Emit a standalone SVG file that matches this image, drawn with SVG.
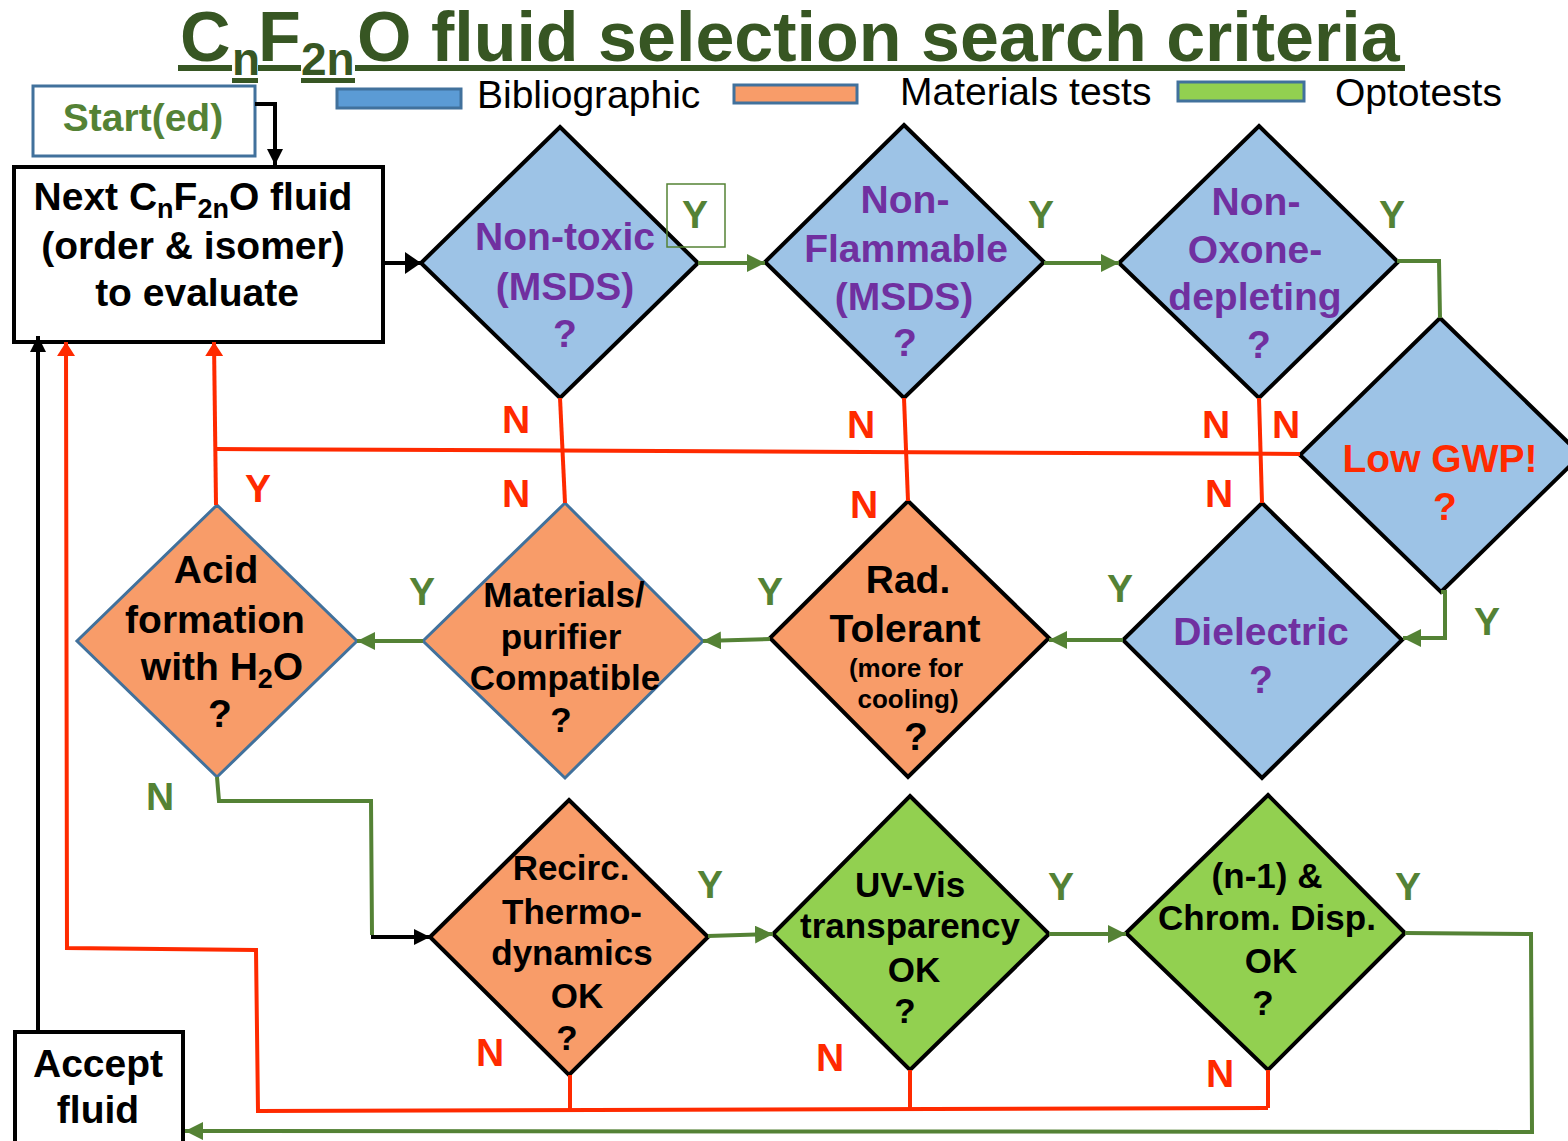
<svg xmlns="http://www.w3.org/2000/svg" width="1568" height="1141" viewBox="0 0 1568 1141">
<style>
text{font-family:"Liberation Sans",Arial,sans-serif;font-weight:bold;}
.t{fill:#375623;font-size:70px;}
.ts{fill:#375623;font-size:46px;}
.lg{font-weight:normal;font-size:39px;fill:#000;}
.c{text-anchor:middle;}
.b39{font-size:39px;}
.b35{font-size:35px;}
.b26{font-size:26px;}
.pur{fill:#7030a0;}
.red{fill:#ff2a00;}
.grn{fill:#548235;}
.blk{fill:#000;}
.dB{fill:#9dc3e6;stroke:#000;stroke-width:4;stroke-linejoin:miter;}
.dO{fill:#f89c69;stroke:#000;stroke-width:4;}
.dOb{fill:#f89c69;stroke:#41719c;stroke-width:3;}
.dG{fill:#92d050;stroke:#000;stroke-width:4;}
.box{fill:#fff;stroke:#000;stroke-width:4;}
.lr{fill:none;stroke:#ff2a00;stroke-width:4;}
.lgn{fill:none;stroke:#548235;stroke-width:4;}
.lk{fill:none;stroke:#000;stroke-width:4;}
</style>
<defs>
<marker id="ag" markerUnits="userSpaceOnUse" markerWidth="20" markerHeight="18" refX="18" refY="9" orient="auto"><path d="M0,0 L18,9 L0,18 z" fill="#548235"/></marker>
<marker id="ar" markerUnits="userSpaceOnUse" markerWidth="16" markerHeight="18" refX="14" refY="9" orient="auto"><path d="M0,0 L14,9 L0,18 z" fill="#ff2a00"/></marker>
<marker id="ak" markerUnits="userSpaceOnUse" markerWidth="18" markerHeight="16" refX="16" refY="8" orient="auto"><path d="M0,0 L16,8 L0,16 z" fill="#000"/></marker>
<marker id="akb" markerUnits="userSpaceOnUse" markerWidth="18" markerHeight="22" refX="16" refY="11" orient="auto"><path d="M0,0 L16,11 L0,22 z" fill="#000"/></marker>
</defs>
<rect width="1568" height="1141" fill="#fff"/>

<g id="title">
<text class="t" x="180" y="61">C</text>
<text class="ts" x="232" y="75">n</text>
<text class="t" x="258" y="61">F</text>
<text class="ts" x="301" y="75">2n</text>
<text class="t" x="357" y="61">O fluid selection search criteria</text>
<g fill="#375623">
<rect x="178" y="65" width="54" height="6"/>
<rect x="232" y="78" width="26" height="5"/>
<rect x="258" y="65" width="43" height="6"/>
<rect x="301" y="78" width="54" height="5"/>
<rect x="355" y="65" width="1050" height="6"/>
</g>
</g>

<g id="legend">
<rect x="337" y="89" width="124" height="19" fill="#5b9bd5" stroke="#41719c" stroke-width="3"/>
<text class="lg" x="477" y="108">Bibliographic</text>
<rect x="734" y="85" width="123" height="18" fill="#f89c69" stroke="#41719c" stroke-width="3"/>
<text class="lg" x="900" y="105">Materials tests</text>
<rect x="1178" y="82" width="126" height="19" fill="#92d050" stroke="#41719c" stroke-width="3"/>
<text class="lg" x="1335" y="106">Optotests</text>
</g>

<g id="start">
<rect x="33" y="86" width="222" height="70" fill="#fff" stroke="#41719c" stroke-width="3"/>
<text class="c b39 grn" x="143" y="131">Start(ed)</text>
</g>

<g id="next">
<rect class="box" x="14" y="167" width="369" height="175"/>
<text class="c b39 blk" x="193" y="210">Next C<tspan font-size="27" dy="8">n</tspan><tspan dy="-8">F</tspan><tspan font-size="27" dy="8">2n</tspan><tspan dy="-8">O fluid</tspan></text>
<text class="c b39 blk" x="193" y="259">(order &amp; isomer)</text>
<text class="c b39 blk" x="197" y="306">to evaluate</text>
</g>

<g id="nontoxic">
<polygon class="dB" points="560,127 698,263 560,398 421,263"/>
<text class="c b39 pur" x="565" y="250">Non-toxic</text>
<text class="c b39 pur" x="565" y="300">(MSDS)</text>
<text class="c b39 pur" x="565" y="347">?</text>
</g>

<g id="nonflammable">
<polygon class="dB" points="904,125 1044,262 904,398 765,262"/>
<text class="c b39 pur" x="905" y="213">Non-</text>
<text class="c b39 pur" x="906" y="262">Flammable</text>
<text class="c b39 pur" x="904" y="310">(MSDS)</text>
<text class="c b39 pur" x="905" y="356">?</text>
</g>

<g id="nonozone">
<polygon class="dB" points="1259,126 1398,262 1259,398 1119,263"/>
<text class="c b39 pur" x="1256" y="215">Non-</text>
<text class="c b39 pur" x="1255" y="263">Oxone-</text>
<text class="c b39 pur" x="1255" y="310">depleting</text>
<text class="c b39 pur" x="1259" y="358">?</text>
</g>

<g id="lowgwp">
<polygon class="dB" points="1440,318 1581,455 1441,592 1300,455"/>
<text class="c b39 red" x="1440" y="472">Low GWP!</text>
<text class="c b39 red" x="1445" y="520">?</text>
</g>

<g id="dielectric">
<polygon class="dB" points="1262,503 1402,640 1262,778 1123,640"/>
<text class="c b39 pur" x="1261" y="645">Dielectric</text>
<text class="c b39 pur" x="1261" y="693">?</text>
</g>

<g id="radtolerant">
<polygon class="dO" points="908,501 1049,638 908,777 770,638"/>
<text class="c b39 blk" x="908" y="593">Rad.</text>
<text class="c b39 blk" x="905" y="642">Tolerant</text>
<text class="c b26 blk" x="906" y="677">(more for</text>
<text class="c b26 blk" x="908" y="708">cooling)</text>
<text class="c b39 blk" x="916" y="750">?</text>
</g>

<g id="materials">
<polygon class="dOb" points="565,503 703,641 565,778 423,641"/>
<text class="c b35 blk" x="564" y="607">Materials/</text>
<text class="c b35 blk" x="561" y="649">purifier</text>
<text class="c b35 blk" x="565" y="690">Compatible</text>
<text class="c b35 blk" x="561" y="732">?</text>
</g>

<g id="acid">
<polygon class="dOb" points="217,505 357,641 217,777 77,641"/>
<text class="c b39 blk" x="216" y="583">Acid</text>
<text class="c b39 blk" x="215" y="633">formation</text>
<text class="c b39 blk" x="222" y="680">with H<tspan font-size="27" dy="8">2</tspan><tspan dy="-8">O</tspan></text>
<text class="c b39 blk" x="220" y="727">?</text>
</g>

<g id="recirc">
<polygon class="dO" points="569,800 708,937 569,1075 430,937"/>
<text class="c b35 blk" x="571" y="880">Recirc.</text>
<text class="c b35 blk" x="572" y="924">Thermo-</text>
<text class="c b35 blk" x="572" y="965">dynamics</text>
<text class="c b35 blk" x="577" y="1008">OK</text>
<text class="c b35 blk" x="567" y="1050">?</text>
</g>

<g id="uvvis">
<polygon class="dG" points="910,796 1049,934 910,1070 773,934"/>
<text class="c b35 blk" x="910" y="897">UV-Vis</text>
<text class="c b35 blk" x="910" y="938">transparency</text>
<text class="c b35 blk" x="914" y="982">OK</text>
<text class="c b35 blk" x="905" y="1023">?</text>
</g>

<g id="chrom">
<polygon class="dG" points="1268,795 1405,933 1268,1070 1126,933"/>
<text class="c b35 blk" x="1267" y="888">(n-1) &amp;</text>
<text class="c b35 blk" x="1267" y="930">Chrom. Disp.</text>
<text class="c b35 blk" x="1271" y="973">OK</text>
<text class="c b35 blk" x="1263" y="1015">?</text>
</g>

<g id="accept">
<rect class="box" x="15" y="1032" width="168" height="130"/>
<text class="c b39 blk" x="98" y="1077">Accept</text>
<text class="c b39 blk" x="98" y="1123">fluid</text>
</g>

<g id="connectors">
<polyline class="lk" stroke-width="3" points="255,104 275,104 275,165" marker-end="url(#ak)"/>
<line class="lk" stroke-width="6" x1="383" y1="263" x2="421" y2="263" marker-end="url(#akb)"/>
<line class="lgn" x1="698" y1="263" x2="765" y2="263" marker-end="url(#ag)"/>
<line class="lgn" x1="1044" y1="263" x2="1119" y2="263" marker-end="url(#ag)"/>
<polyline class="lgn" points="1397,261 1439,261 1440,318"/>
<polyline class="lgn" points="1441,592 1445,592 1445,638 1403,638" marker-end="url(#ag)"/>
<line class="lgn" x1="1123" y1="640" x2="1049" y2="640" marker-end="url(#ag)"/>
<line class="lgn" x1="770" y1="639" x2="703" y2="641" marker-end="url(#ag)"/>
<line class="lgn" x1="423" y1="641" x2="357" y2="641" marker-end="url(#ag)"/>
<polyline class="lgn" points="217,777 219,801 371,801 372,935"/>
<line class="lk" stroke-width="5" x1="371" y1="937" x2="430" y2="937" marker-end="url(#ak)"/>
<line class="lgn" x1="708" y1="936" x2="773" y2="934" marker-end="url(#ag)"/>
<line class="lgn" x1="1049" y1="934" x2="1126" y2="934" marker-end="url(#ag)"/>
<polyline class="lgn" points="1405,933 1531,934 1532,1132 185,1131" marker-end="url(#ag)"/>

<line class="lr" x1="560" y1="398" x2="565" y2="503"/>
<line class="lr" x1="904" y1="398" x2="908" y2="501"/>
<line class="lr" x1="1259" y1="398" x2="1262" y2="503"/>
<line class="lr" x1="215" y1="449" x2="1300" y2="454"/>
<line class="lr" x1="216" y1="505" x2="214" y2="342" marker-end="url(#ar)"/>
<line class="lr" x1="570" y1="1075" x2="570" y2="1111"/>
<line class="lr" x1="910" y1="1070" x2="910" y2="1109"/>
<line class="lr" x1="1268" y1="1070" x2="1268" y2="1108"/>
<polyline class="lr" points="1268,1108 258,1111 256,950 67,948 66,342" marker-end="url(#ar)"/>
<line class="lk" x1="38" y1="1032" x2="38" y2="336" marker-end="url(#ak)"/>
</g>

<g id="labels">
<rect x="667" y="184" width="58" height="63" fill="none" stroke="#548235" stroke-width="1.5"/>
<text class="c b39 grn" x="695" y="228">Y</text>
<text class="c b39 grn" x="1041" y="228">Y</text>
<text class="c b39 grn" x="1392" y="228">Y</text>
<text class="c b39 grn" x="1487" y="635">Y</text>
<text class="c b39 grn" x="1120" y="602">Y</text>
<text class="c b39 grn" x="770" y="605">Y</text>
<text class="c b39 grn" x="422" y="605">Y</text>
<text class="c b39 grn" x="710" y="898">Y</text>
<text class="c b39 grn" x="1061" y="900">Y</text>
<text class="c b39 grn" x="1408" y="900">Y</text>
<text class="c b39 grn" x="160" y="810">N</text>
<text class="c b39 red" x="258" y="502">Y</text>
<text class="c b39 red" x="516" y="433">N</text>
<text class="c b39 red" x="516" y="507">N</text>
<text class="c b39 red" x="861" y="438">N</text>
<text class="c b39 red" x="864" y="518">N</text>
<text class="c b39 red" x="1216" y="438">N</text>
<text class="c b39 red" x="1286" y="438">N</text>
<text class="c b39 red" x="1219" y="507">N</text>
<text class="c b39 red" x="490" y="1066">N</text>
<text class="c b39 red" x="830" y="1071">N</text>
<text class="c b39 red" x="1220" y="1087">N</text>
</g>
</svg>
